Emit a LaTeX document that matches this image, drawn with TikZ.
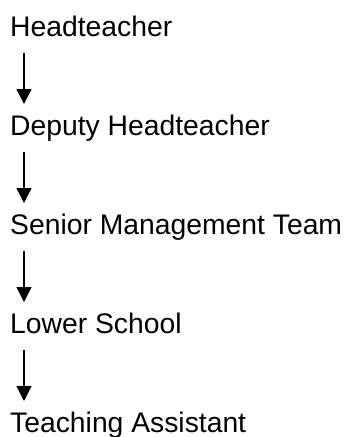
\documentclass[tikz,border=0pt]{standalone}
\usepackage{fontspec}
\setmainfont{Liberation Sans}
\usetikzlibrary{arrows.meta}

\tikzset{
  role/.style={anchor=base west, inner sep=0pt, font=\fontsize{28.3}{31}\selectfont},
  down/.style={-{Triangle[width=15pt,length=15pt]}, line width=1.2pt}
}

\begin{document}
\begin{tikzpicture}[x=1pt,y=-1pt]
\useasboundingbox (0,0) rectangle (359,437);

% the roles, top to bottom
\node[role] (head) at (10,36) {Headteacher};
\node[role] (deputy) at (10,135) {Deputy Headteacher};
\node[role] (smt) at (10,234) {Senior Management Team};
\node[role] (lower) at (10,333) {Lower School};
\node[role] (ta) at (10,432) {Teaching Assistant};

% arrows between them
\draw[down] ([xshift=14pt,yshift=-17pt]head.base west) -- ([xshift=14pt,yshift=31pt]deputy.base west);
\draw[down] ([xshift=14pt,yshift=-17pt]deputy.base west) -- ([xshift=14pt,yshift=31pt]smt.base west);
\draw[down] ([xshift=14pt,yshift=-17pt]smt.base west) -- ([xshift=14pt,yshift=31pt]lower.base west);
\draw[down] ([xshift=14pt,yshift=-17pt]lower.base west) -- ([xshift=14pt,yshift=31pt]ta.base west);

\end{tikzpicture}
\end{document}
